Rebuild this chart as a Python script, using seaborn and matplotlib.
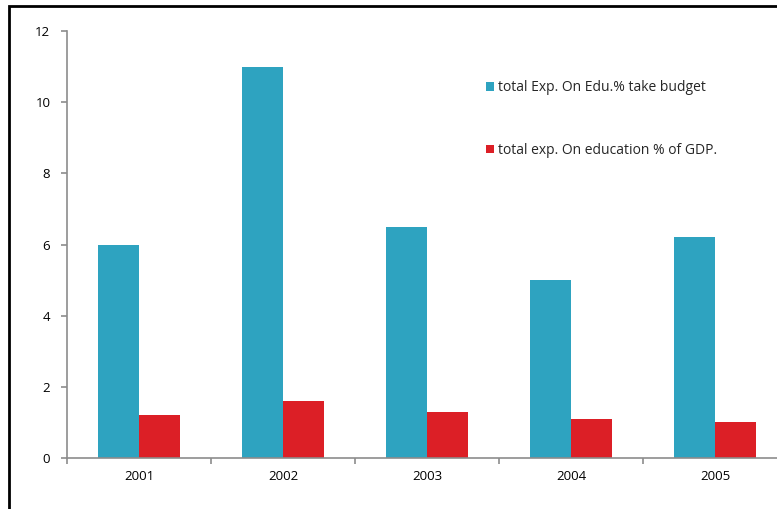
import matplotlib
matplotlib.use("Agg")
import matplotlib.pyplot as plt
import seaborn as sns
import pandas as pd
from matplotlib.patches import Rectangle, Patch

years = ["2001", "2002", "2003", "2004", "2005"]
budget_pct = [6.0, 11.0, 6.5, 5.0, 6.2]
gdp_pct = [1.2, 1.6, 1.3, 1.1, 1.0]
series_names = ["total Exp. On Edu.% take budget", "total exp. On education % of GDP."]
colors = ["#2EA3C0", "#DC1F26"]

df = pd.DataFrame({
    "year": years * 2,
    "value": budget_pct + gdp_pct,
    "series": [series_names[0]] * len(years) + [series_names[1]] * len(years),
})

sns.set_style("white")
plt.rcParams["font.family"] = ["Open Sans", "DejaVu Sans"]

fig = plt.figure(figsize=(7.77, 5.09), dpi=100)
ax = fig.add_axes([67 / 777, 1 - 458 / 509, 720 / 777, (458 - 31) / 509])

sns.barplot(data=df, x="year", y="value", hue="series", palette=colors,
            width=0.57, gap=0, saturation=1, ax=ax, legend=False,
            linewidth=0, edgecolor="none")

ax.set_xlim(-0.5, 4.5)
ax.set_ylim(0, 12)
ax.set_yticks([0, 2, 4, 6, 8, 10, 12])
ax.set_xlabel("")
ax.set_ylabel("")
for s in ["top", "right"]:
    ax.spines[s].set_visible(False)
for s in ["left", "bottom"]:
    ax.spines[s].set_color("#8C8C8C")
    ax.spines[s].set_linewidth(1.2)

ax.tick_params(axis="x", which="major", length=0, labelsize=9.5, pad=9, colors="black")
ax.set_xticks([i - 0.5 for i in range(len(years) + 1)], minor=True)
ax.tick_params(axis="x", which="minor", length=4, width=1.2, color="#8C8C8C", direction="out")
ax.tick_params(axis="y", length=4, width=1.2, color="#8C8C8C", direction="out",
               labelsize=9.5, pad=8, labelcolor="black")
ax.yaxis.set_ticks_position("left")
ax.xaxis.set_ticks_position("bottom")

handles = [Patch(facecolor=c, edgecolor="none") for c in colors]
ax.legend(handles, series_names, loc="upper left",
          bbox_to_anchor=(486 / 777, 1 - 80 / 509), bbox_transform=fig.transFigure,
          frameon=False, fontsize=10, handlelength=0.6, handleheight=0.6,
          handletextpad=0.25, labelspacing=3.45, borderpad=0, borderaxespad=0)

fig.patches.append(Rectangle((9 / 777, -0.05), 1.1, 1 - 6 / 509 + 0.05,
                             transform=fig.transFigure, fill=False,
                             edgecolor="black", linewidth=2, zorder=10))

fig.savefig("out.png", dpi=100)
